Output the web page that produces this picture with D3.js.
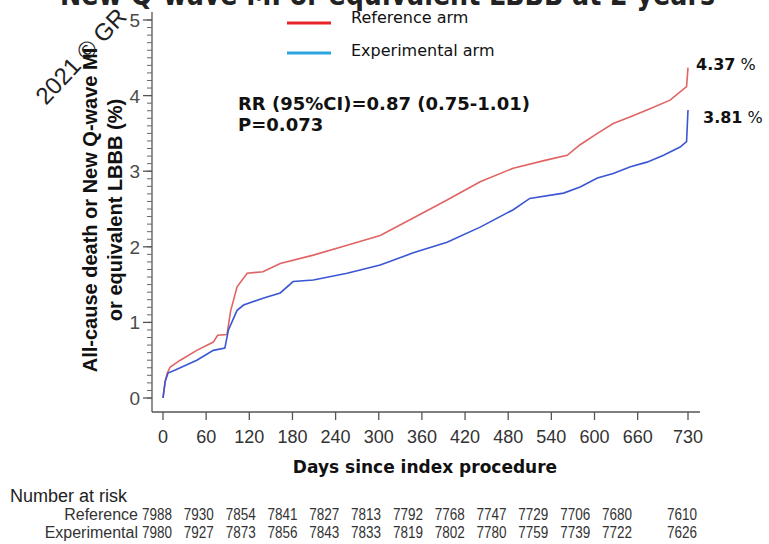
<!DOCTYPE html>
<html>
<head>
<meta charset="utf-8">
<script src="https://cdn.jsdelivr.net/npm/d3@7"></script>
<style>
  body { margin: 0; background: #fff; }
  svg { display: block; }
</style>
</head>
<body>
<div id="chart"></div>
<script>
// values (days, cumulative %)
var refDays = [0, 3, 6, 10, 24, 47, 70, 76, 89, 94, 103, 117, 139, 163, 209, 256, 302, 348, 395, 441, 487, 534, 562, 580, 604, 626, 650, 673, 705, 728, 730];
var refPct  = [0, 0.22, 0.33, 0.41, 0.50, 0.63, 0.74, 0.83, 0.84, 1.15, 1.47, 1.65, 1.67, 1.78, 1.89, 2.02, 2.15, 2.38, 2.62, 2.86, 3.04, 3.15, 3.21, 3.35, 3.50, 3.63, 3.72, 3.81, 3.94, 4.12, 4.37];
var expDays = [0, 3, 7, 17, 47, 70, 86, 91, 103, 112, 139, 163, 181, 209, 256, 302, 348, 395, 441, 487, 510, 557, 580, 604, 626, 650, 673, 696, 719, 728, 730];
var expPct  = [0, 0.22, 0.33, 0.37, 0.50, 0.63, 0.66, 0.90, 1.16, 1.23, 1.32, 1.39, 1.54, 1.56, 1.65, 1.76, 1.92, 2.06, 2.26, 2.49, 2.64, 2.71, 2.79, 2.91, 2.97, 3.06, 3.12, 3.21, 3.32, 3.39, 3.81];

var xTicks = [0, 60, 120, 180, 240, 300, 360, 420, 480, 540, 600, 660, 730];
var yTicks = [0, 1, 2, 3, 4, 5];
var riskRef = [7988, 7930, 7854, 7841, 7827, 7813, 7792, 7768, 7747, 7729, 7706, 7680, 7610];
var riskExp = [7980, 7927, 7873, 7856, 7843, 7833, 7819, 7802, 7780, 7759, 7739, 7722, 7626];
var endLabels = [{ v: "4.37", y: 70, x: 696 }, { v: "3.81", y: 123, x: 703 }];

var W = 769, H = 544;
var svg = d3.select("#chart").append("svg").attr("width", W).attr("height", H);

var x = d3.scaleLinear().domain([0, 730]).range([163, 688]);
var y = d3.scaleLinear().domain([0, 5]).range([398, 20]);
// at-risk columns are packed a bit tighter than the ticks, last one sits under 730
var col = d3.scaleLinear().domain([0, 11]).range([157, 617]);

var sans = "'Liberation Sans', Arial, sans-serif";
var tah = "'DejaVu Sans', Verdana, sans-serif";

// cut-off title at the very top
svg.append("text")
  .attr("x", 60).attr("y", 5)
  .attr("textLength", 655).attr("lengthAdjust", "spacingAndGlyphs")
  .style("font-family", tah).style("font-weight", "bold").style("font-size", "30px")
  .attr("fill", "#222")
  .text("New Q-wave MI or equivalent LBBB at 2 years");

// y axis
var yAxis = svg.append("g").attr("transform", "translate(152,0)");
yAxis.append("line").attr("y1", 12).attr("y2", 412).attr("stroke", "#555").attr("stroke-width", 1.3);
yAxis.selectAll(".minor").data(d3.range(0, 5.01, 0.1)).enter().append("line")
  .attr("x1", -5).attr("x2", 0)
  .attr("y1", function (d) { return y(d); }).attr("y2", function (d) { return y(d); })
  .attr("stroke", "#666").attr("stroke-width", 1);
yAxis.selectAll(".major").data(yTicks).enter().append("line")
  .attr("x1", -9).attr("x2", 0)
  .attr("y1", function (d) { return y(d); }).attr("y2", function (d) { return y(d); })
  .attr("stroke", "#555").attr("stroke-width", 1.3);
yAxis.selectAll("text").data(yTicks).enter().append("text")
  .attr("x", -12).attr("y", function (d) { return y(d) + 7; })
  .attr("text-anchor", "end")
  .style("font-family", sans).style("font-size", "19px").attr("fill", "#4a4a4a")
  .text(function (d) { return d; });

// x axis
var xAxis = svg.append("g").attr("transform", "translate(0,412)");
xAxis.append("line").attr("x1", 152).attr("x2", 700).attr("stroke", "#555").attr("stroke-width", 1.3);
xAxis.selectAll("line.tk").data(xTicks).enter().append("line")
  .attr("class", "tk")
  .attr("x1", function (d) { return x(d); }).attr("x2", function (d) { return x(d); })
  .attr("y1", 0).attr("y2", 8).attr("stroke", "#555").attr("stroke-width", 1.3);
xAxis.selectAll("text").data(xTicks).enter().append("text")
  .attr("x", function (d) { return x(d); }).attr("y", 31)
  .attr("text-anchor", "middle")
  .style("font-family", sans).style("font-size", "18px").attr("fill", "#333")
  .text(function (d) { return d; });

// axis titles
svg.append("text")
  .attr("x", 425).attr("y", 473).attr("text-anchor", "middle")
  .style("font-family", tah).style("font-weight", "bold").style("font-size", "17px")
  .attr("fill", "#111")
  .text("Days since index procedure");

var yLab = svg.append("g").attr("transform", "translate(97,210) rotate(-90)");
yLab.append("text").attr("x", 0).attr("y", 0).attr("text-anchor", "middle")
  .style("font-family", sans).style("font-weight", "bold").style("font-size", "20px").attr("fill", "#111")
  .text("All-cause death or New Q-wave MI");
yLab.append("text").attr("x", 0).attr("y", 25).attr("text-anchor", "middle")
  .style("font-family", sans).style("font-weight", "bold").style("font-size", "20px").attr("fill", "#111")
  .text("or equivalent LBBB (%)");

// curves
var line = d3.line()
  .x(function (d) { return x(d[0]); })
  .y(function (d) { return y(d[1]); });

svg.append("path")
  .datum(d3.zip(refDays, refPct))
  .attr("d", line).attr("fill", "none")
  .attr("stroke", "#e06464").attr("stroke-width", 1.6);
svg.append("path")
  .datum(d3.zip(expDays, expPct))
  .attr("d", line).attr("fill", "none")
  .attr("stroke", "#3b56d2").attr("stroke-width", 1.6);

// legend
var legend = svg.append("g");
legend.append("line").attr("x1", 287).attr("x2", 331).attr("y1", 23).attr("y2", 23)
  .attr("stroke", "#e8232b").attr("stroke-width", 3);
legend.append("line").attr("x1", 287).attr("x2", 331).attr("y1", 53).attr("y2", 53)
  .attr("stroke", "#2aa6e0").attr("stroke-width", 3);
legend.append("text").attr("x", 351).attr("y", 23)
  .style("font-family", tah).style("font-size", "16px").attr("fill", "#111")
  .text("Reference arm");
legend.append("text").attr("x", 351).attr("y", 56)
  .style("font-family", tah).style("font-size", "16px").attr("fill", "#111")
  .text("Experimental arm");

// stats
svg.append("text").attr("x", 238).attr("y", 110)
  .style("font-family", tah).style("font-weight", "bold").style("font-size", "18px").attr("fill", "#111")
  .text("RR (95%CI)=0.87 (0.75-1.01)");
svg.append("text").attr("x", 238).attr("y", 131)
  .style("font-family", tah).style("font-weight", "bold").style("font-size", "18px").attr("fill", "#111")
  .text("P=0.073");

// end-of-curve labels
var el = svg.selectAll(".endlab").data(endLabels).enter().append("text")
  .attr("x", function (d) { return d.x; }).attr("y", function (d) { return d.y; })
  .style("font-family", tah).style("font-size", "16px").attr("fill", "#111");
el.append("tspan").style("font-weight", "bold").text(function (d) { return d.v; });
el.append("tspan").text(" %");

// number at risk table
svg.append("text").attr("x", 10).attr("y", 502)
  .style("font-family", sans).style("font-size", "18px").attr("fill", "#222")
  .text("Number at risk");
var rows = [{ name: "Reference", vals: riskRef, y: 520 }, { name: "Experimental", vals: riskExp, y: 538 }];
rows.forEach(function (r) {
  svg.append("text").attr("x", 138).attr("y", r.y).attr("text-anchor", "end")
    .style("font-family", sans).style("font-size", "16px").attr("fill", "#333")
    .text(r.name);
  svg.selectAll(null).data(r.vals).enter().append("text")
    .attr("x", function (d, i) { return i < 12 ? col(i) : x(730) - 6; }).attr("y", r.y)
    .attr("text-anchor", "middle")
    .attr("textLength", 30).attr("lengthAdjust", "spacingAndGlyphs")
    .style("font-family", sans).style("font-size", "16px").attr("fill", "#333")
    .text(function (d) { return d; });
});

// dark rotated watermark at top left
svg.append("text")
  .attr("transform", "translate(46,106) rotate(-47)")
  .style("font-family", sans).style("font-size", "24px").attr("fill", "#222")
  .text("2021 © GR");
</script>
</body>
</html>
